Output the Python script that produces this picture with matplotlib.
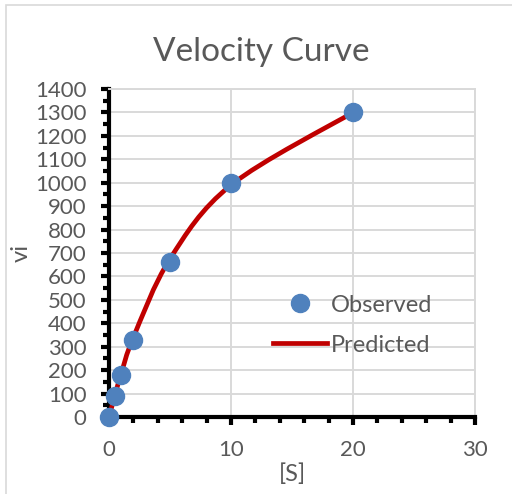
import numpy as np
import matplotlib
matplotlib.use('Agg')
import matplotlib.pyplot as plt
from matplotlib.path import Path
from matplotlib.patches import PathPatch, Rectangle
from matplotlib.lines import Line2D

plt.rcParams['font.family'] = ['Lato', 'DejaVu Sans']

# observed data
S_obs = [0, 0.5, 1, 2, 5, 10, 20]
v_obs = [0, 90, 180, 330, 660, 1000, 1300]
# predicted values
S_pred = [0, 0.5, 1, 2, 5, 10, 20]
v_pred = [0, 95, 185, 340, 675, 990, 1300]

x_ticks = [0, 10, 20, 30]
y_ticks = list(range(0, 1500, 100))

grey_text = '#595959'
blue = '#4F81BD'
red = '#C00000'

fig = plt.figure(figsize=(5.12, 4.94), dpi=100)
# chart area border
fig.patches.append(Rectangle((6 / 512, -0.01), 1.0, 1 - 5 / 494 + 0.01, transform=fig.transFigure,
                             fill=False, edgecolor='#D9D9D9', linewidth=1.2))
ax = fig.add_axes([109 / 512, 1 - 417 / 494, (475 - 109) / 512, (417 - 89) / 494])

# Excel-like smoothed line, built as bezier segments through the predicted points
pts = np.column_stack([S_pred, v_pred]).astype(float)
verts = [tuple(pts[0])]
codes = [Path.MOVETO]
n = len(pts)
for i in range(n - 1):
    p0 = pts[i - 1] if i > 0 else pts[i]
    p1 = pts[i]
    p2 = pts[i + 1]
    p3 = pts[i + 2] if i + 2 < n else pts[i + 1]
    c1 = p1 + (p2 - p0) / 6
    c2 = p2 - (p3 - p1) / 6
    verts += [tuple(c1), tuple(c2), tuple(p2)]
    codes += [Path.CURVE4] * 3
ax.add_patch(PathPatch(Path(verts, codes), fill=False, edgecolor=red, linewidth=3.4,
                       capstyle='round', zorder=3))

ax.plot(S_obs, v_obs, 'o', color=blue, markersize=13, zorder=4, clip_on=False)

ax.set_xlim(0, 30)
ax.set_ylim(0, 1400)
ax.set_xticks(x_ticks)
ax.set_yticks(y_ticks)
ax.set_xticks(np.arange(0, 31, 2), minor=True)
ax.set_yticks(np.arange(0, 1401, 50), minor=True)
ax.grid(True, which='major', color='#D9D9D9', linewidth=1.4)
ax.set_axisbelow(True)

for side in ['top', 'right']:
    ax.spines[side].set_color('#D9D9D9')
    ax.spines[side].set_linewidth(1.4)
for side in ['left', 'bottom']:
    ax.spines[side].set_color('black')
    ax.spines[side].set_linewidth(3)

ax.tick_params(which='major', direction='out', length=5.8, width=3, color='black',
               labelsize=16, labelcolor=grey_text)
ax.tick_params(which='minor', direction='out', length=4.3, width=3, color='black')
ax.tick_params(axis='y', pad=10.5)
ax.tick_params(axis='x', pad=11)

fig.text(261 / 512, 1 - 61 / 494, 'Velocity Curve', fontsize=24, color=grey_text,
         ha='center', va='baseline')
ax.set_xlabel('[S]', fontsize=17, color=grey_text, labelpad=2)
ax.set_ylabel('vi', fontsize=17, color=grey_text, labelpad=2)

handles = [Line2D([], [], linestyle='none', marker='o', color=blue, markersize=13),
           Line2D([], [], color=red, linewidth=3.4)]
ax.legend(handles, ['Observed', 'Predicted'], loc='center left', bbox_to_anchor=(0.422, 0.28),
          borderaxespad=0, frameon=False, fontsize=17, labelcolor=grey_text, handlelength=2.3,
          handletextpad=0.17, labelspacing=0.8)

fig.savefig('out.png', dpi=100)
